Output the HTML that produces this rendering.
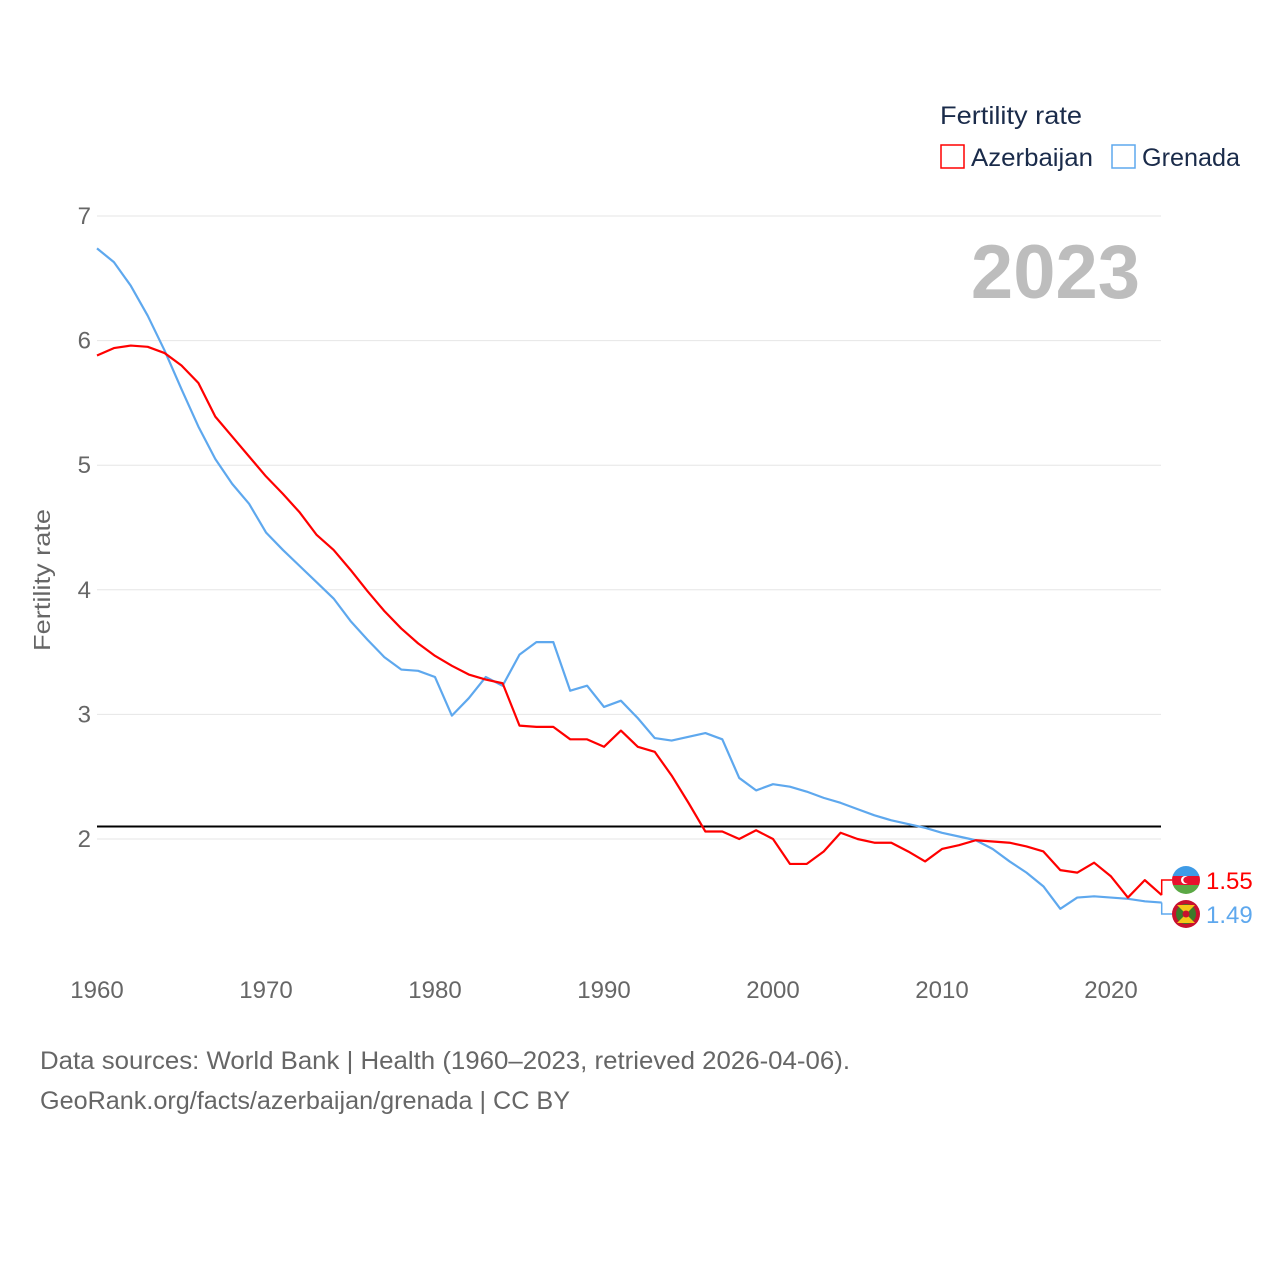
<!DOCTYPE html>
<html><head><meta charset="utf-8"><style>
body{margin:0;background:#fff;font-family:"Liberation Sans",sans-serif}
svg text{font-family:"Liberation Sans",sans-serif}
</style></head><body>
<svg width="1280" height="1280">
<g id="grid"></g>
<g id="yt"></g>
<g id="xt"></g>
<text x="50" y="580" font-size="23" fill="#666" text-anchor="middle" textLength="142" lengthAdjust="spacingAndGlyphs" transform="rotate(-90 50 580)">Fertility rate</text>
<text x="1140" y="298" font-size="76" font-weight="bold" fill="#bdbdbd" text-anchor="end">2023</text>
<text x="940" y="124" font-size="25" fill="#1a2b4a" textLength="142" lengthAdjust="spacingAndGlyphs">Fertility rate</text>
<rect x="941" y="145" width="23" height="23" fill="none" stroke="#f00" stroke-width="1.5"/>
<text x="971" y="166" font-size="25" fill="#1a2b4a" textLength="122" lengthAdjust="spacingAndGlyphs">Azerbaijan</text>
<rect x="1112" y="145" width="23" height="23" fill="none" stroke="#5ea8ee" stroke-width="1.5"/>
<text x="1142" y="166" font-size="25" fill="#1a2b4a" textLength="98" lengthAdjust="spacingAndGlyphs">Grenada</text>
<g id="series"></g>
<text x="40" y="1069" font-size="25" fill="#666" textLength="810" lengthAdjust="spacingAndGlyphs">Data sources: World Bank | Health (1960–2023, retrieved 2026-04-06).</text>
<text x="40" y="1109" font-size="25" fill="#666" textLength="530" lengthAdjust="spacingAndGlyphs">GeoRank.org/facts/azerbaijan/grenada | CC BY</text>
</svg>
<script>
const years=[];for(let y=1960;y<=2023;y++)years.push(y);
const azerbaijan=[5.88,5.94,5.96,5.95,5.90,5.80,5.66,5.39,5.23,5.07,4.91,4.77,4.62,4.44,4.32,4.16,3.99,3.83,3.69,3.57,3.47,3.39,3.32,3.28,3.25,2.91,2.90,2.90,2.80,2.80,2.74,2.87,2.74,2.70,2.51,2.29,2.06,2.06,2.00,2.07,2.00,1.80,1.80,1.90,2.05,2.00,1.97,1.97,1.90,1.82,1.92,1.95,1.99,1.98,1.97,1.94,1.90,1.75,1.73,1.81,1.70,1.53,1.67,1.55];
const grenada=[6.74,6.63,6.44,6.20,5.92,5.61,5.31,5.05,4.85,4.69,4.46,4.32,4.19,4.06,3.93,3.75,3.60,3.46,3.36,3.35,3.30,2.99,3.13,3.30,3.23,3.48,3.58,3.58,3.19,3.23,3.06,3.11,2.97,2.81,2.79,2.82,2.85,2.80,2.49,2.39,2.44,2.42,2.38,2.33,2.29,2.24,2.19,2.15,2.12,2.09,2.05,2.02,1.99,1.92,1.82,1.73,1.62,1.44,1.53,1.54,1.53,1.52,1.50,1.49];
const yTicks=[2,3,4,5,6,7];
const xTicks=[1960,1970,1980,1990,2000,2010,2020];
const refValue=2.1;
const NS="http://www.w3.org/2000/svg";
const X=y=>97+(y-1960)*(1111-97)/60;
const Y=v=>839-(v-2)*124.6;
function mk(t,a,p){const e=document.createElementNS(NS,t);for(const k in a)e.setAttribute(k,a[k]);p.appendChild(e);return e;}
const g=document.getElementById('grid'),yt=document.getElementById('yt'),xt=document.getElementById('xt'),s=document.getElementById('series');
yTicks.forEach(v=>{
 const l=mk('line',{x1:97,x2:1161,y1:Y(v),y2:Y(v),stroke:'#e6e6e6','stroke-width':1},g);
 
 
 const t=mk('text',{x:91,y:Y(v)+8,'font-size':24,fill:'#666','text-anchor':'end'},yt);t.textContent=v;
 
 
});
xTicks.forEach(v=>{
 const t=mk('text',{x:X(v),y:998,'font-size':24,fill:'#666','text-anchor':'middle'},xt);t.textContent=v;
 
 
});
const ref=mk('line',{x1:97,x2:1161,y1:Y(refValue),y2:Y(refValue),stroke:'#000','stroke-width':2},s);


function line(d,c,n){
 const p=mk('polyline',{points:d.map((v,i)=>X(years[i])+','+Y(v)).join(' '),fill:'none',stroke:c,'stroke-width':2.2,'stroke-linejoin':'round'},s);
 
 
}
line(grenada,'#5ea8ee','line-grenada');
line(azerbaijan,'#f00','line-azerbaijan');
const ea=azerbaijan[azerbaijan.length-1],eg=grenada[grenada.length-1];
let ya=Y(ea),yg=Y(eg);let la=880,lg=914;
const xe=X(2023);
const c1=mk('polyline',{points:`${xe},${ya} ${xe},${la} 1172,${la}`,fill:'none',stroke:'#f00','stroke-width':1.5},s);


const c2=mk('polyline',{points:`${xe},${yg} ${xe},${lg} 1172,${lg}`,fill:'none',stroke:'#5ea8ee','stroke-width':1.5},s);


const fa=mk('g',{},s);


const cp=mk('clipPath',{id:'ca'},fa);
mk('circle',{cx:1186,cy:la,r:14},cp);
const ga=mk('g',{'clip-path':'url(#ca)'},fa);
mk('rect',{x:1172,y:la-14,width:28,height:10,fill:'#3f9be6'},ga);
mk('rect',{x:1172,y:la-4,width:28,height:9,fill:'#e8112d'},ga);
mk('rect',{x:1172,y:la+5,width:28,height:10,fill:'#5ba845'},ga);
mk('circle',{cx:1185,cy:la,r:4,fill:'#fff'},ga);mk('circle',{cx:1186.5,cy:la,r:3.2,fill:'#e8112d'},ga);
const fg=mk('g',{},s);


mk('circle',{cx:1186,cy:lg,r:14,fill:'#c8102e'},fg);
mk('circle',{cx:1186,cy:lg,r:10,fill:'#3b7a2a'},fg);
mk('polygon',{points:`1177,${lg-9} 1195,${lg-9} 1186,${lg} 1177,${lg+9} 1195,${lg+9} 1186,${lg}`,fill:'#f5c518'},fg);
mk('circle',{cx:1186,cy:lg,r:3.5,fill:'#c8102e'},fg);
const ta=mk('text',{x:1206,y:la+9,'font-size':24,fill:'#f00'},s);ta.textContent=ea.toFixed(2);


const tg=mk('text',{x:1206,y:lg+9,'font-size':24,fill:'#5ea8ee'},s);tg.textContent=eg.toFixed(2);


</script>
</body></html>
